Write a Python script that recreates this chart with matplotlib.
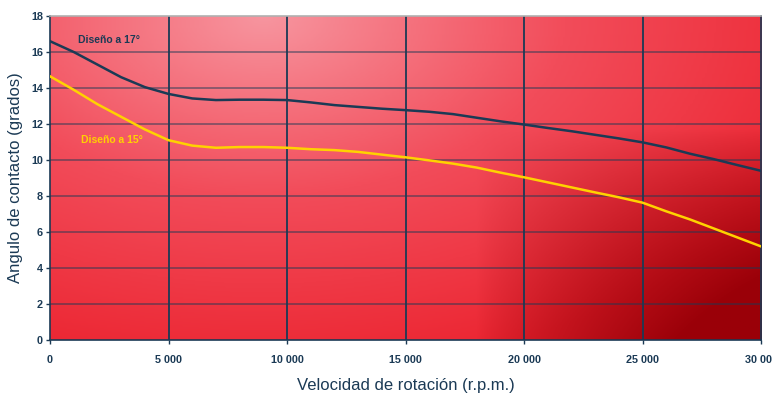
import matplotlib.pyplot as plt
import matplotlib.colors as mcolors
import numpy as np

# datos
rpm = [0, 1000, 2000, 3000, 4000, 5000, 6000, 7000, 8000, 9000, 10000,
       11000, 12000, 13000, 14000, 15000, 16000, 17000, 18000, 19000, 20000,
       21000, 22000, 23000, 24000, 25000, 26000, 27000, 28000, 29000, 30000]
angulo_17 = [16.6, 16.0, 15.3, 14.6, 14.05, 13.67, 13.42, 13.33, 13.35, 13.35, 13.33,
             13.2, 13.05, 12.95, 12.85, 12.77, 12.68, 12.55, 12.35, 12.15, 11.97,
             11.78, 11.6, 11.4, 11.2, 10.98, 10.7, 10.35, 10.05, 9.72, 9.4]
angulo_15 = [14.65, 13.9, 13.1, 12.4, 11.7, 11.1, 10.8, 10.68, 10.72, 10.72, 10.68,
             10.6, 10.55, 10.45, 10.3, 10.15, 9.98, 9.8, 9.58, 9.3, 9.04,
             8.76, 8.48, 8.2, 7.93, 7.63, 7.15, 6.7, 6.2, 5.7, 5.2]
xticks = [0, 5000, 10000, 15000, 20000, 25000, 30000]
xtick_labels = ['0', '5 000', '10 000', '15 000', '20 000', '25 000', '30 000']
yticks = list(range(0, 19, 2))

navy = '#1b3a55'
amarillo = '#ffd200'

fig = plt.figure(figsize=(7.72, 3.94), dpi=100)
ax = fig.add_axes([0.0648, 0.137, 0.921, 0.8224])

# fondo degradado rojo
nx, ny = 300, 150
gx, gy = np.meshgrid(np.linspace(0, 1, nx), np.linspace(0, 1, ny))
v = np.sqrt(((gx - 0.3) / 1.0) ** 2 + ((gy - 1.0) / 1.3) ** 2)
v = np.clip(v / 0.85, 0, 1)
cmap = mcolors.LinearSegmentedColormap.from_list(
    'fondo', [(0, '#f7959f'), (0.5, '#f24c5a'), (1.0, '#ec2632')])
rgb = cmap(v)[..., :3]
w = np.clip((gx - 0.6) / 0.4, 0, 1) * np.clip((0.65 - gy) / 0.65, 0, 1)
w = np.clip(w * 1.4, 0, 1) ** 0.8
oscuro = np.array(mcolors.to_rgb('#9a0008'))
rgb = rgb * (1 - w[..., None]) + oscuro * w[..., None]
ax.imshow(rgb, extent=[0, 30000, 0, 18], origin='lower', aspect='auto', zorder=0)

ax.set_xlim(0, 30000)
ax.set_ylim(0, 18)

for y in yticks[1:-1]:
    ax.axhline(y, color=navy, lw=1.1, alpha=0.6, zorder=1)
for x in xticks[1:-1]:
    ax.axvline(x, color=navy, lw=1.3, zorder=1)

ax.plot(rpm, angulo_17, color=navy, lw=1.8, zorder=3)
ax.plot(rpm, angulo_15, color=amarillo, lw=1.8, zorder=3)

ax.text(1200, 16.65, 'Diseño a 17°', color=navy, fontsize=7.5, fontweight='bold',
        family='Liberation Sans', va='center')
ax.text(1300, 11.1, 'Diseño a 15°', color=amarillo, fontsize=7.5, fontweight='bold',
        family='Liberation Sans', va='center')

ax.set_xticks(xticks)
ax.set_xticklabels(xtick_labels)
ax.set_yticks(yticks)
for lab in ax.get_xticklabels() + ax.get_yticklabels():
    lab.set_fontweight('bold')
    lab.set_family('Liberation Sans')
ax.tick_params(axis='both', colors=navy, labelsize=7.8, length=3, width=1)
ax.tick_params(axis='x', pad=8)
ax.tick_params(axis='y', pad=2)

for lado in ['left', 'bottom', 'right']:
    ax.spines[lado].set_color(navy)
    ax.spines[lado].set_linewidth(1.2)
ax.spines['top'].set_color('#b0b0b0')
ax.spines['top'].set_linewidth(1.2)

ax.set_xlabel('Velocidad de rotación (r.p.m.)', color=navy, fontsize=12,
              family='Liberation Sans', labelpad=9)
ax.set_ylabel('Angulo de contacto (grados)', color=navy, fontsize=12,
              family='Liberation Sans', labelpad=6)

fig.savefig('out.png', dpi=100)
